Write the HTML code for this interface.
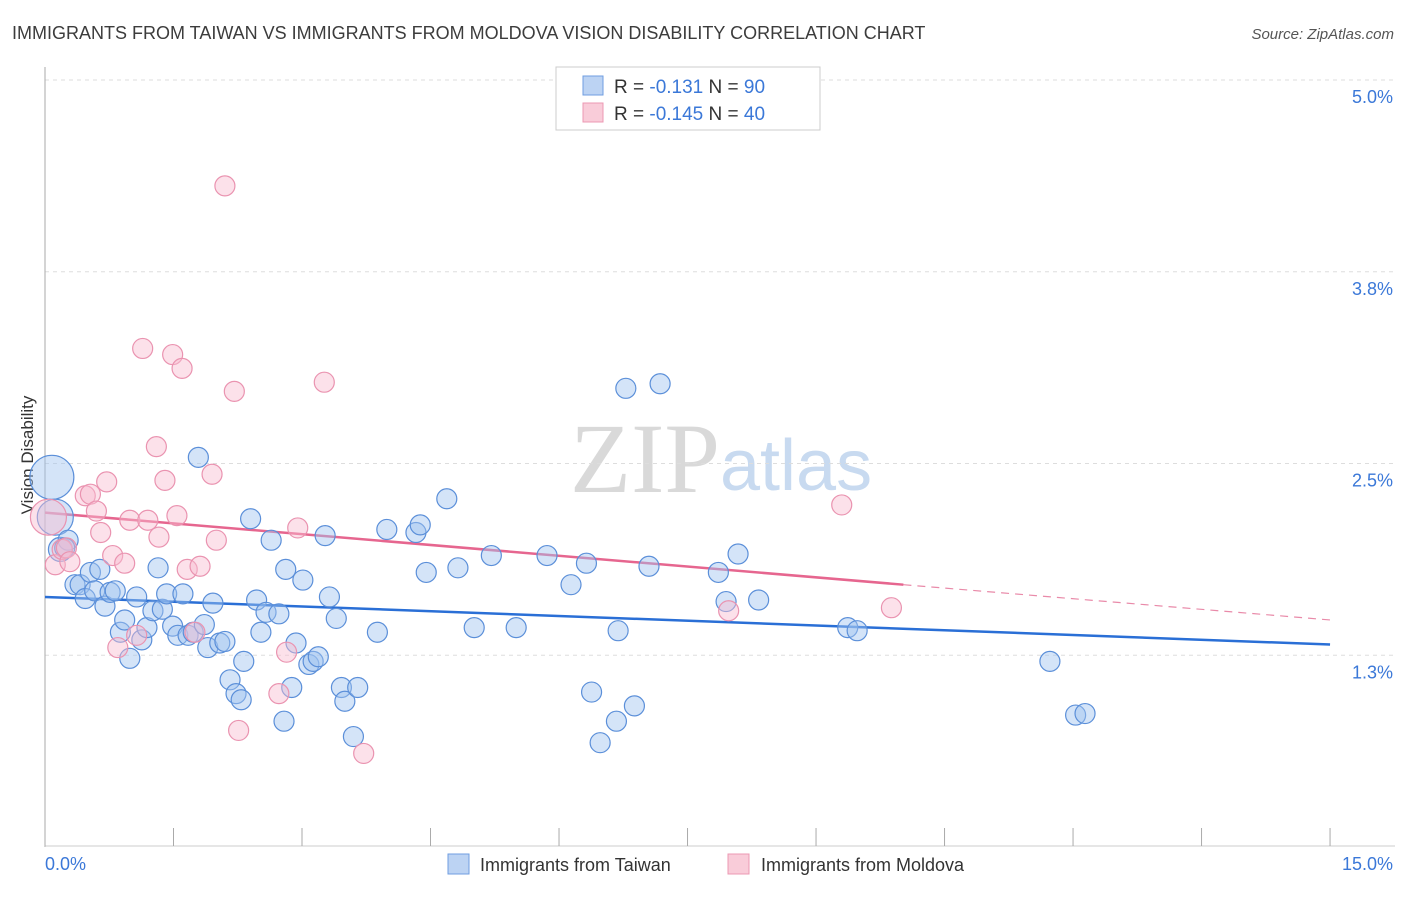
<!DOCTYPE html>
<html><head><meta charset="utf-8"><style>
body{margin:0;background:#fff;font-family:"Liberation Sans",sans-serif}
svg text{font-family:"Liberation Sans",sans-serif}
</style></head><body>
<svg id="chart" width="1406" height="892">
<text x="12" y="39" font-size="18" fill="#3c3c3c">IMMIGRANTS FROM TAIWAN VS IMMIGRANTS FROM MOLDOVA VISION DISABILITY CORRELATION CHART</text>
<text x="1394" y="39" font-size="15" fill="#555" font-style="italic" text-anchor="end">Source: ZipAtlas.com</text>
<text x="720" y="492" font-size="100" fill="#d9d9d9" text-anchor="end" font-family="Liberation Serif" style="font-family:'Liberation Serif',serif">ZIP</text>
<text x="720" y="490" font-size="72" fill="#c8daf0">atlas</text>
<g id="grid"></g><g id="axes"></g><g id="lines"></g><g id="pts"></g>
<text x="33" y="455" font-size="17" fill="#333" text-anchor="middle" transform="rotate(-90 33 455)">Vision Disability</text>
<g>
<rect x="556" y="67" width="264" height="63" fill="#fff" stroke="#ccc"/>
<rect x="583" y="76" width="20" height="19" fill="#bcd3f3" stroke="#6f9ee0"/>
<rect x="583" y="103" width="20" height="19" fill="#f9ccd9" stroke="#ec98b3"/>
<text x="614" y="93" font-size="19" fill="#333">R = <tspan fill="#3b78d8">-0.131</tspan>   N = <tspan fill="#3b78d8">90</tspan></text>
<text x="614" y="120" font-size="19" fill="#333">R = <tspan fill="#3b78d8">-0.145</tspan>   N = <tspan fill="#3b78d8">40</tspan></text>
</g>
<g>
<rect x="448" y="854" width="21" height="20" fill="#bcd3f3" stroke="#6f9ee0"/>
<text x="480" y="871" font-size="18" fill="#333">Immigrants from Taiwan</text>
<rect x="728" y="854" width="21" height="20" fill="#f9ccd9" stroke="#ec98b3"/>
<text x="761" y="871" font-size="18" fill="#333">Immigrants from Moldova</text>
</g>
</svg>
<script>
const xTicks=[0,1.5,3,4.5,6,7.5,9,10.5,12,13.5,15];
const yTicks=[1.25,2.5,3.75,5];
const yTickLabels=["1.3%","2.5%","3.8%","5.0%"];
const xEndLabels=["0.0%","15.0%"];
const taiwanX=[0.08,0.12,0.18,0.27,0.23,0.35,0.41,0.47,0.53,0.58,0.64,0.70,0.76,0.82,0.88,0.93,0.99,1.07,1.13,1.19,1.26,1.32,1.37,1.42,1.49,1.55,1.61,1.67,1.73,1.79,1.86,1.90,1.96,2.04,2.10,2.16,2.23,2.29,2.32,2.40,2.47,2.52,2.58,2.64,2.73,2.79,2.81,2.88,2.93,3.01,3.08,3.13,3.19,3.27,3.32,3.40,3.46,3.50,3.60,3.65,3.88,3.99,4.33,4.38,4.45,4.69,4.82,5.01,5.21,5.50,5.86,6.14,6.32,6.38,6.48,6.67,6.69,6.78,6.88,7.05,7.18,7.86,7.95,8.09,8.33,9.37,9.48,11.73,12.03,12.14];
const taiwanY=[2.41,2.15,1.94,2.00,1.95,1.71,1.71,1.62,1.79,1.67,1.81,1.57,1.66,1.67,1.40,1.48,1.23,1.63,1.35,1.43,1.54,1.82,1.55,1.65,1.44,1.38,1.65,1.38,1.40,2.54,1.45,1.30,1.59,1.33,1.34,1.09,1.00,0.96,1.21,2.14,1.61,1.40,1.53,2.00,1.52,0.82,1.81,1.04,1.33,1.74,1.19,1.21,1.24,2.03,1.63,1.49,1.04,0.95,0.72,1.04,1.40,2.07,2.05,2.10,1.79,2.27,1.82,1.43,1.90,1.43,1.90,1.71,1.85,1.01,0.68,0.82,1.41,2.99,0.92,1.83,3.02,1.79,1.60,1.91,1.61,1.43,1.41,1.21,0.86,0.87];
const taiwanR=[22,18,12,10,10,10,10,10,10,10,10,10,10,10,10,10,10,10,10,10,10,10,10,10,10,10,10,10,10,10,10,10,10,10,10,10,10,10,10,10,10,10,10,10,10,10,10,10,10,10,10,10,10,10,10,10,10,10,10,10,10,10,10,10,10,10,10,10,10,10,10,10,10,10,10,10,10,10,10,10,10,10,10,10,10,10,10,10,10,10];
const moldovaX=[0.04,0.12,0.20,0.25,0.29,0.47,0.53,0.60,0.65,0.72,0.79,0.85,0.93,0.99,1.07,1.14,1.20,1.30,1.33,1.40,1.49,1.54,1.60,1.66,1.75,1.81,1.95,2.00,2.10,2.21,2.26,2.73,2.82,2.95,3.26,3.72,7.98,9.30,9.88];
const moldovaY=[2.15,1.84,1.94,1.95,1.86,2.29,2.30,2.19,2.05,2.38,1.90,1.30,1.85,2.13,1.38,3.25,2.13,2.61,2.02,2.39,3.21,2.16,3.12,1.81,1.40,1.83,2.43,2.00,4.31,2.97,0.76,1.00,1.27,2.08,3.03,0.61,1.54,2.23,1.56];
const moldovaR=[18,10,10,10,10,10,10,10,10,10,10,10,10,10,10,10,10,10,10,10,10,10,10,10,10,10,10,10,10,10,10,10,10,10,10,10,10,10,10];
const taiwanTrend=[[0,1.63],[15,1.32]];
const moldovaTrendSolid=[[0,2.18],[10.02,1.71]];
const moldovaTrendDash=[[10.02,1.71],[15,1.48]];
const NS="http://www.w3.org/2000/svg";
const X=v=>45+v*85.67, Y=v=>847-v*153.4;
function mk(p,t,a){const e=document.createElementNS(NS,t);for(const k in a)e.setAttribute(k,a[k]);p.appendChild(e);return e;}
const grid=document.getElementById('grid'),axes=document.getElementById('axes'),lines=document.getElementById('lines'),pts=document.getElementById('pts');
yTicks.forEach((t,i)=>{
 const g=mk(grid,'line',{x1:45,x2:1395,y1:Y(t),y2:Y(t),stroke:'#ddd','stroke-dasharray':'4,4'});
 
 
 const l=mk(grid,'text',{x:1393,y:Y(t)+23,'font-size':18,fill:'#3b78d8','text-anchor':'end'});
 l.textContent=yTickLabels[i];
 
 
});
const ax=mk(axes,'line',{x1:45,x2:45,y1:67,y2:847,stroke:'#aaa'});


const bx=mk(axes,'line',{x1:45,x2:1395,y1:846,y2:846,stroke:'#ccc'});


xTicks.forEach(t=>{
 const k=mk(axes,'line',{x1:X(t),x2:X(t),y1:828,y2:846,stroke:'#aaa'});
 
 
});
const xl0=mk(axes,'text',{x:45,y:870,'font-size':18,fill:'#3b78d8'});xl0.textContent=xEndLabels[0];


const xl1=mk(axes,'text',{x:1393,y:870,'font-size':18,fill:'#3b78d8','text-anchor':'end'});xl1.textContent=xEndLabels[1];


function dots(xs,ys,rs,fill,stroke,name){xs.forEach((x,i)=>{
 const c=mk(pts,'circle',{cx:X(x),cy:Y(ys[i]),r:rs[i],fill:fill,stroke:stroke,'stroke-width':1.2});
 
 
});}
dots(taiwanX,taiwanY,taiwanR,'rgba(160,195,240,0.45)','#5b8fd9','taiwan-point');
dots(moldovaX,moldovaY,moldovaR,'rgba(248,188,208,0.45)','#ea93b0','moldova-point');
function ln(p,st,w,dash,name){const l=mk(lines,'line',{x1:X(p[0][0]),y1:Y(p[0][1]),x2:X(p[1][0]),y2:Y(p[1][1]),stroke:st,'stroke-width':w});if(dash)l.setAttribute('stroke-dasharray',dash);
 
 }
ln(moldovaTrendDash,'#e98aa9',1.2,'8,6','moldova-trend-extrapolated');
ln(taiwanTrend,'#2a6fd6',2.5,null,'taiwan-trend-line');
ln(moldovaTrendSolid,'#e6668f',2.5,null,'moldova-trend-line');
document.getElementById('chart').appendChild(pts);
</script>
</body></html>
